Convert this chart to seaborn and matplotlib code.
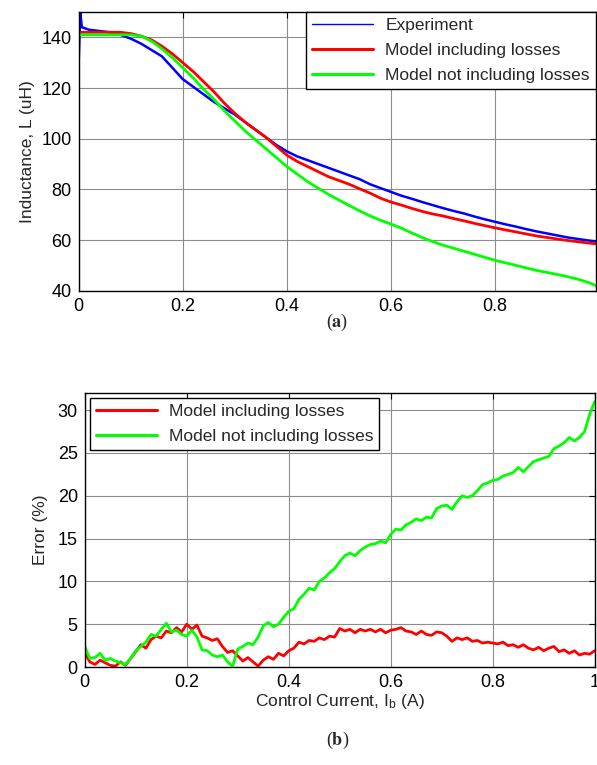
import numpy as np
import pandas as pd
import seaborn as sns
import matplotlib
matplotlib.use("Agg")
import matplotlib.pyplot as plt

# ---------------- data (top panel) ----------------
model_x = [0.00, 0.02, 0.04, 0.06, 0.08, 0.10, 0.12, 0.14, 0.16, 0.18, 0.20, 0.22, 0.24, 0.26, 0.28,
           0.30, 0.32, 0.34, 0.36, 0.38, 0.40, 0.42, 0.44, 0.46, 0.48, 0.50, 0.52, 0.54, 0.56, 0.58,
           0.60, 0.62, 0.64, 0.66, 0.68, 0.70, 0.72, 0.74, 0.76, 0.78, 0.80, 0.82, 0.84, 0.86, 0.88,
           0.90, 0.92, 0.94, 0.96, 0.98, 1.00]
red_L = [142, 142, 142, 142, 142, 141.5, 140.5, 139, 136.5, 133.5, 130, 126.5, 122.5, 118.5, 114,
         110, 106.5, 103.5, 100.5, 97, 93.5, 91, 89, 87, 85, 83.5, 82, 80.2, 78.5, 76.5,
         75, 73.8, 72.5, 71.3, 70.3, 69.5, 68.5, 67.6, 66.6, 65.7, 64.8, 64, 63.2, 62.4, 61.6,
         61, 60.4, 59.8, 59.3, 58.8, 58.4]
green_L = [141, 141, 141, 141, 141, 141, 140.5, 138.5, 135.5, 132, 128, 124, 119.5, 115.5, 111,
           107, 103, 99.5, 96, 92.5, 89, 86, 83, 80.5, 78, 75.8, 73.6, 71.5, 69.5, 67.8,
           66.3, 64.7, 62.8, 61, 59.4, 58, 56.8, 55.6, 54.4, 53.2, 52, 51, 50, 49, 48,
           47.2, 46.4, 45.5, 44.5, 43.2, 41.5]
exp_x = [0.000, 0.003, 0.006] + model_x[1:]
exp_L = [130, 150, 144, 143, 142.5, 142, 141, 139.5, 137.5, 135, 132.5, 128, 123.5, 120.5, 117.5,
         114.5, 112, 109.5, 106.5, 103.5, 100.5, 97.5, 95, 93, 91.5, 90, 88.5, 87, 85.5, 84,
         82, 80.5, 79, 77.5, 76.3, 75, 73.8, 72.6, 71.5, 70.5, 69.3, 68.2, 67.2, 66.2, 65.3,
         64.3, 63.4, 62.6, 61.8, 61, 60.4, 59.8, 59.3]

# ---------------- data (bottom panel) ----------------
err_x = [round(i * 0.01, 2) for i in range(101)]
err_red = [1.7, 0.6, 0.3, 0.8, 0.5, 0.2, 0.1, 0.6, 0.2, 1.0,
           1.8, 2.6, 2.2, 3.2, 3.6, 3.4, 4.2, 4.0, 4.6, 4.1,
           5.0, 4.4, 4.9, 3.6, 3.4, 3.1, 3.3, 2.4, 1.7, 1.9,
           1.3, 0.7, 1.1, 0.6, 0.1, 0.8, 1.2, 0.9, 1.6, 1.3,
           1.9, 2.2, 2.9, 2.7, 3.1, 3.0, 3.4, 3.2, 3.6, 3.5,
           4.5, 4.2, 4.4, 4.0, 4.4, 4.2, 4.4, 4.1, 4.4, 4.0,
           4.3, 4.4, 4.6, 4.2, 4.1, 3.8, 4.2, 3.8, 3.7, 4.1,
           4.0, 3.6, 3.0, 3.4, 3.2, 3.4, 3.0, 3.1, 2.8, 2.9,
           2.8, 2.7, 2.9, 2.5, 2.6, 2.3, 2.6, 2.2, 2.0, 2.3,
           1.9, 2.2, 2.4, 1.8, 2.0, 1.6, 1.9, 1.4, 1.6, 1.5,
           1.9]
err_green = [2.4, 1.0, 1.1, 1.6, 0.8, 1.0, 0.7, 0.5, 0.3, 1.0,
             1.9, 2.4, 2.9, 3.8, 3.6, 4.4, 5.1, 4.1, 4.3, 3.8,
             3.6, 4.3, 3.5, 2.0, 1.9, 1.4, 1.2, 1.4, 0.6, 0.1,
             2.1, 2.4, 2.8, 2.6, 3.5, 4.8, 5.2, 4.7, 5.0, 5.8,
             6.5, 6.8, 7.9, 8.5, 9.2, 9.0, 10.0, 10.4, 11.0, 11.5,
             12.3, 13.0, 13.3, 13.0, 13.6, 14.0, 14.3, 14.4, 14.7, 14.5,
             15.5, 16.1, 16.0, 16.6, 16.9, 17.3, 17.1, 17.5, 17.4, 18.5,
             18.8, 18.9, 18.4, 19.3, 20.0, 19.8, 20.0, 20.6, 21.3, 21.5,
             21.8, 21.9, 22.3, 22.5, 22.7, 23.3, 22.8, 23.4, 24.0, 24.2,
             24.4, 24.6, 25.5, 25.8, 26.2, 26.8, 26.4, 26.8, 27.5, 29.5,
             31.0]

top_xticks = [0, 0.2, 0.4, 0.6, 0.8]
top_xlabels = ['0', '0.2', '0.4', '0.6', '0.8']
top_yticks = [40, 60, 80, 100, 120, 140]
bot_xticks = [0, 0.2, 0.4, 0.6, 0.8, 1.0]
bot_xlabels = ['0', '0.2', '0.4', '0.6', '0.8', '1']
bot_yticks = [0, 5, 10, 15, 20, 25, 30]

# ---------------- style ----------------
sns.set_style('white')
plt.rcParams['font.family'] = ['Liberation Sans', 'DejaVu Sans']
plt.rcParams['mathtext.fontset'] = 'stix'

BLUE, RED, GREEN = '#0000FF', '#FF0000', '#00FF00'

fig = plt.figure(figsize=(5.97, 7.65), dpi=100)
ax1 = fig.add_axes([0.1318, 0.620, 0.8665, 0.3643])
ax2 = fig.add_axes([0.1419, 0.1281, 0.8543, 0.3582])

sns.lineplot(x=exp_x, y=exp_L, ax=ax1, color=BLUE, lw=1.8, sort=False, estimator=None,
             label='Experiment')
sns.lineplot(x=model_x, y=red_L, ax=ax1, color=RED, lw=2.0, sort=False, estimator=None,
             label='Model including losses')
sns.lineplot(x=model_x, y=green_L, ax=ax1, color=GREEN, lw=2.0, sort=False, estimator=None,
             label='Model not including losses')

sns.lineplot(x=err_x, y=err_red, ax=ax2, color=RED, lw=2.0, sort=False, estimator=None,
             label='Model including losses')
sns.lineplot(x=err_x, y=err_green, ax=ax2, color=GREEN, lw=2.0, sort=False, estimator=None,
             label='Model not including losses')

for ax in (ax1, ax2):
    ax.grid(True, color='#8c8c8c', lw=0.8)
    ax.set_axisbelow(True)
    ax.tick_params(direction='in', top=True, right=True, length=4, width=0.8,
                   labelsize=13, colors='black', pad=5)
    for s in ax.spines.values():
        s.set_color('black')
        s.set_linewidth(1.0)

ax1.set_xlim(0, 0.994)
ax1.set_ylim(40, 150)
ax1.set_xticks(top_xticks)
ax1.set_xticklabels(top_xlabels)
ax1.set_yticks(top_yticks)
ax1.set_ylabel('Inductance, L (uH)', fontsize=12.5, labelpad=5)

ax2.set_xlim(0, 1)
ax2.set_ylim(0, 32)
ax2.set_xticks(bot_xticks)
ax2.set_xticklabels(bot_xlabels)
ax2.set_yticks(bot_yticks)
ax2.set_ylabel('Error (%)', fontsize=12.5, labelpad=7)
ax2.set_xlabel(r'Control Current, I$_\mathregular{b}$ (A)', fontsize=12.5, labelpad=1)

leg_kw = dict(fontsize=12.5, frameon=True, fancybox=False, edgecolor='black',
              framealpha=1, handlelength=3.5, handletextpad=0.7, labelspacing=0.55,
              borderpad=0.35)

leg1 = ax1.legend(loc='upper right', bbox_to_anchor=(1.0, 1.0), borderaxespad=0.0, **leg_kw)
leg1.get_frame().set_linewidth(1.0)
leg1.get_lines()[0].set_linewidth(1.0)
for l in leg1.get_lines()[1:]:
    l.set_linewidth(2.2)

leg2 = ax2.legend(loc='upper left', borderaxespad=0.3, **leg_kw)
leg2.get_frame().set_linewidth(1.0)
for l in leg2.get_lines():
    l.set_linewidth(2.2)

fig.text(0.565, 1 - 322 / 765, r'($\mathbf{a}$)', ha='center', va='center', fontsize=13,
         family='Liberation Serif')
fig.text(0.565, 1 - 740 / 765, r'($\mathbf{b}$)', ha='center', va='center', fontsize=13,
         family='Liberation Serif')

fig.savefig('out.png', dpi=100)
